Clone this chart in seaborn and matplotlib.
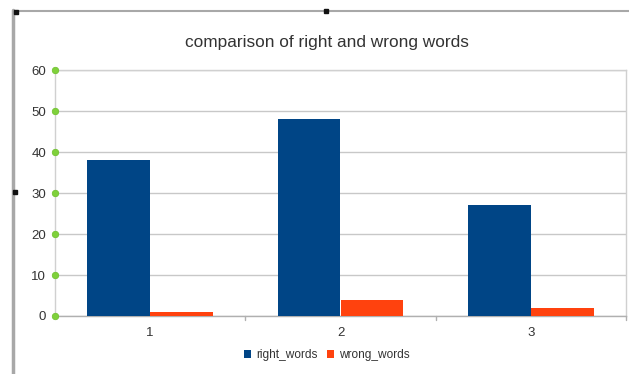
import matplotlib
matplotlib.use("Agg")
import matplotlib.pyplot as plt
import matplotlib.transforms as mtransforms
from matplotlib.lines import Line2D
from matplotlib.patches import Patch
import pandas as pd
import seaborn as sns

# Chart data
categories = ["1", "2", "3"]
right_words = [38, 48, 27]
wrong_words = [1, 4, 2]
series_names = ["right_words", "wrong_words"]
y_ticks = [0, 10, 20, 30, 40, 50, 60]

colors = {"right_words": "#004586", "wrong_words": "#ff420e"}

df = pd.DataFrame({
    "category": categories * 2,
    "series": [series_names[0]] * 3 + [series_names[1]] * 3,
    "value": right_words + wrong_words,
})

sns.set_theme(style="white")
plt.rcParams["font.family"] = ["Liberation Sans", "DejaVu Sans"]

fig = plt.figure(figsize=(6.29, 3.74), dpi=100)
ax = fig.add_axes([55 / 629, 1 - 316 / 374, (626 - 55) / 629, (316 - 70) / 374])

sns.barplot(data=df, x="category", y="value", hue="series", order=categories,
            hue_order=series_names, palette=colors, width=0.66, saturation=1,
            linewidth=0, ax=ax, legend=False, zorder=3)

ax.set_ylim(0, 60)
ax.set_xlim(-0.5, 2.5)
ax.set_yticks(y_ticks)
ax.set_yticklabels([str(t) for t in y_ticks])
ax.yaxis.grid(True, color="#c8c8c8", linewidth=1, zorder=0)
ax.set_xlabel("")
ax.set_ylabel("")
ax.tick_params(axis="y", length=0, pad=6.5, labelsize=9.5, labelcolor="#333333")
ax.tick_params(axis="x", length=0, pad=8, labelsize=9.5, labelcolor="#333333")

for side in ["left", "right", "top"]:
    ax.spines[side].set_color("#d0d0d0")
    ax.spines[side].set_linewidth(1)
ax.spines["bottom"].set_color("#b0b0b0")
ax.spines["bottom"].set_linewidth(1)

# small ticks between categories on the x axis
for xb in [0.5, 1.5, 2.5]:
    ax.plot([xb, xb], [0, -0.9], color="#b0b0b0", lw=1, clip_on=False, zorder=4)

# green markers at each y tick
trans = mtransforms.blended_transform_factory(ax.transAxes, ax.transData)
ax.scatter([0] * len(y_ticks), y_ticks, transform=trans, s=22, color="#7fd13b",
           edgecolor="#6cbf2a", linewidth=0.5, clip_on=False, zorder=5)

fig.text(327 / 629, 1 - 42 / 374, "comparison of right and wrong words",
         ha="center", va="center", fontsize=12.4, color="#333333")

handles = [Patch(facecolor=colors[s], edgecolor="none") for s in series_names]
fig.legend(handles, series_names, loc="center", bbox_to_anchor=(327 / 629, 1 - 355 / 374),
           ncol=2, frameon=False, fontsize=8.6, handlelength=0.6, handleheight=0.6,
           handletextpad=0.4, columnspacing=0.8, labelcolor="#333333")

# outer frame lines of the chart object
fig.add_artist(Line2D([13 / 629, 13 / 629], [0, 1 - 10 / 374], color="#a8a8a8", lw=2.5))
fig.add_artist(Line2D([13 / 629, 1], [1 - 11 / 374, 1 - 11 / 374], color="#a8a8a8", lw=1.5))
for (hx, hy) in [(16, 12), (326, 11), (15, 192)]:
    fig.add_artist(Line2D([hx / 629], [1 - hy / 374], marker="s", markersize=2.5,
                          color="#111111", lw=0))

fig.savefig("out.png", dpi=100)
